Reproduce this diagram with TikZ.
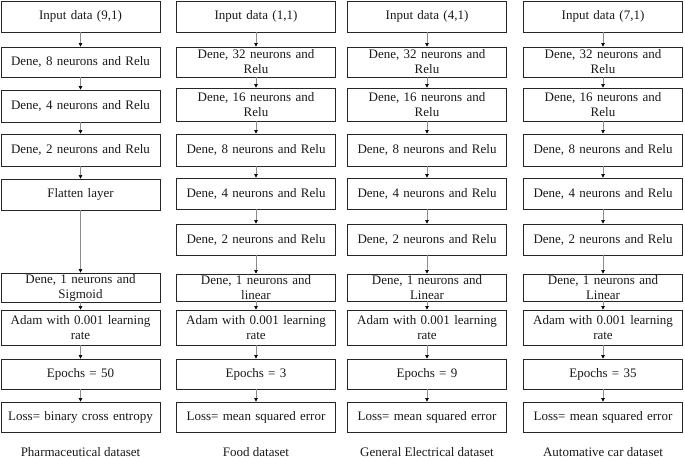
\documentclass[tikz,border=0pt]{standalone}
\usepackage{fontspec}
\setmainfont{Liberation Serif}
\usetikzlibrary{arrows.meta}
\tikzset{
  box/.style={draw=black!85, line width=0.8pt, minimum width=159pt, text width=152pt, align=center, inner sep=0pt, font=\fontsize{13}{15}\selectfont, text=black!90},
  conn/.style={draw=black!45, line width=0.6pt, -{Triangle[length=3.5pt,width=3.5pt,black]}},
  lab/.style={font=\fontsize{13}{15}\selectfont, text=black!90}
}
\newcommand{\bx}[5]{% name, x, top, bottom, text
  \node[box, minimum height={(#4-#3)*1pt}] (#1) at (#2pt,{-(#3+#4)/2*1pt}) {#5};}
\begin{document}
\begin{tikzpicture}
\useasboundingbox (0,0) rectangle (685pt,-458pt);
% column 1
\bx{a1}{80.5}{1}{32}{Input data (9,1)}
\bx{a2}{80.5}{47}{77}{Dene, 8 neurons and Relu}
\bx{a3}{80.5}{90}{122}{Dene, 4 neurons and Relu}
\bx{a4}{80.5}{134}{166}{Dene, 2 neurons and Relu}
\bx{a5}{80.5}{179}{210}{Flatten layer}
\bx{a6}{80.5}{273}{302}{Dene, 1 neurons and\\Sigmoid}
\bx{a7}{80.5}{310}{345}{Adam with 0.001 learning\\rate}
\bx{a8}{80.5}{359}{389}{Epochs = 50}
\bx{a9}{80.5}{402}{432}{Loss= binary cross entropy}
\foreach \i [evaluate=\i as \j using int(\i+1)] in {1,...,8} \draw[conn] (a\i) -- (a\j);
\node[lab] (la) at (80.5pt,-452pt) {Pharmaceutical dataset};
% columns 2-4
\foreach \c/\x/\inp/\act/\ep/\lbl in {b/256/{(1,1)}/linear/3/{Food dataset}, c/427/{(4,1)}/Linear/9/{General Electrical dataset}, d/603/{(7,1)}/Linear/35/{Automative car dataset}}{
  \bx{\c1}{\x}{1}{32}{Input data \inp}
  \bx{\c2}{\x}{47}{77}{Dene, 32 neurons and\\Relu}
  \bx{\c3}{\x}{88}{121}{Dene, 16 neurons and\\Relu}
  \bx{\c4}{\x}{134}{166}{Dene, 8 neurons and Relu}
  \bx{\c5}{\x}{178}{209}{Dene, 4 neurons and Relu}
  \bx{\c6}{\x}{224}{255}{Dene, 2 neurons and Relu}
  \bx{\c7}{\x}{274}{301}{Dene, 1 neurons and\\\act}
  \bx{\c8}{\x}{310}{345}{Adam with 0.001 learning\\rate}
  \bx{\c9}{\x}{359}{389}{Epochs = \ep}
  \bx{\c10}{\x}{402}{432}{Loss= mean squared error}
  \foreach \i [evaluate=\i as \j using int(\i+1)] in {1,...,9} \draw[conn] (\c\i) -- (\c\j);
  \node[lab] (l\c) at (\x pt,-452pt) {\lbl};
}
\end{tikzpicture}
\end{document}
